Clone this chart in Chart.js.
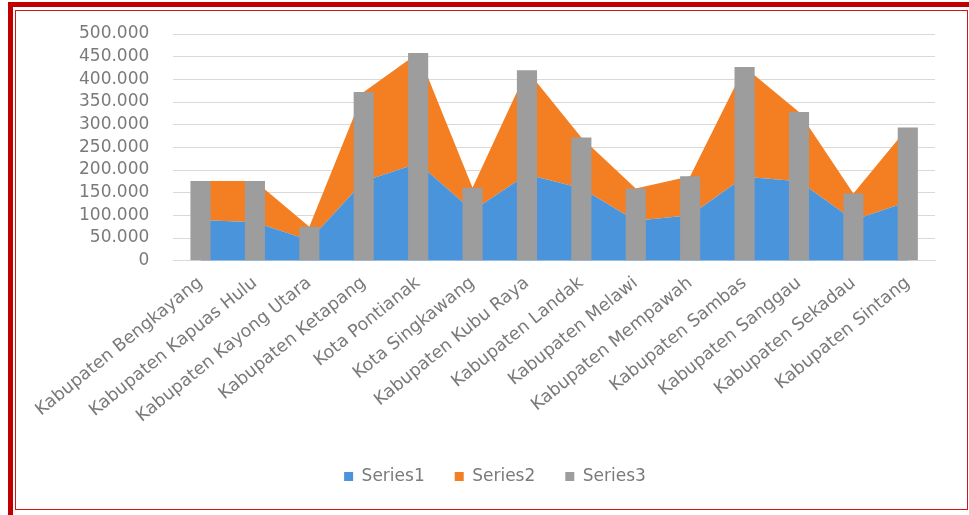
<!DOCTYPE html>
<html>
<head>
<meta charset="utf-8">
<script src="https://cdn.jsdelivr.net/npm/chart.js@4/dist/chart.umd.min.js"></script>
<style>
  html, body { margin: 0; padding: 0; background: #fff; }
  #wrap { position: relative; width: 969px; height: 515px; overflow: hidden; }
  #chart { position: absolute; left: 0; top: 0; }
  .frameOuter { position: absolute; left: 8px; top: 2px; width: 960px; height: 510px; border: 5px solid #c00000; }
  .frameInner { position: absolute; left: 15px; top: 10px; width: 951px; height: 498px; border: 1.5px solid #d01818; }
</style>
</head>
<body>
<div id="wrap">
  <canvas id="chart" width="969" height="515"></canvas>
  <div class="frameOuter"></div>
  <div class="frameInner"></div>
</div>
<script>
var kabupaten = ['Kabupaten Bengkayang', 'Kabupaten Kapuas Hulu', 'Kabupaten Kayong Utara', 'Kabupaten Ketapang',
    'Kota Pontianak', 'Kota Singkawang', 'Kabupaten Kubu Raya', 'Kabupaten Landak', 'Kabupaten Melawi',
    'Kabupaten Mempawah', 'Kabupaten Sambas', 'Kabupaten Sanggau', 'Kabupaten Sekadau', 'Kabupaten Sintang'];

var series1 = [90000, 85000, 45000, 175000, 215000, 110000, 190000, 160000, 88000, 100000, 185000, 175000, 90000, 130000];
var series2 = [86000, 91000, 30000, 197000, 243000, 51000, 230000, 112000, 71000, 86000, 242000, 153000, 58000, 164000];
var series3 = [176000, 176000, 75000, 372000, 458000, 161000, 420000, 272000, 159000, 186000, 427000, 328000, 148000, 294000];

var yMax = 500000;
var yStep = 50000;

function titik(v) {
    return String(v).replace(/\B(?=(\d{3})+(?!\d))/g, '.');
}

var teks = '#7a7a7a';
var huruf = "'DejaVu Sans', sans-serif";

var ctx = document.getElementById('chart').getContext('2d');

new Chart(ctx, {
    data: {
        labels: kabupaten,
        datasets: [{
            type: 'line',
            label: 'Series1',
            data: series1,
            stack: 'area',
            fill: 'origin',
            backgroundColor: '#4a94dc',
            borderColor: '#4a94dc',
            borderWidth: 0,
            pointRadius: 0,
            tension: 0,
            order: 2
        }, {
            type: 'line',
            label: 'Series2',
            data: series2,
            stack: 'area',
            fill: '-1',
            backgroundColor: '#f47e22',
            borderColor: '#f47e22',
            borderWidth: 0,
            pointRadius: 0,
            tension: 0,
            order: 2
        }, {
            type: 'bar',
            label: 'Series3',
            data: series3,
            stack: 'bar',
            backgroundColor: '#9d9d9d',
            barPercentage: 0.37,
            categoryPercentage: 1,
            order: 1
        }]
    },
    options: {
        responsive: false,
        animation: false,
        layout: {
            padding: { left: 55, right: 34, top: 34, bottom: 20 }
        },
        scales: {
            x: {
                offset: true,
                grid: { display: false },
                border: { color: '#d9d9d9' },
                ticks: {
                    color: teks,
                    font: { family: huruf, size: 17.5 },
                    minRotation: 39,
                    maxRotation: 39,
                    autoSkip: false,
                    padding: 4
                },
                afterFit: function (scale) {
                    // label pertama boleh keluar ke kiri, jangan geser area plot
                    scale.paddingLeft = 0;
                    scale.height += 7;
                }
            },
            y: {
                stacked: true,
                min: 0,
                max: yMax,
                grid: { color: '#d9d9d9', drawTicks: false },
                border: { display: false },
                ticks: {
                    stepSize: yStep,
                    autoSkip: false,
                    color: teks,
                    padding: 24,
                    font: { family: huruf, size: 17, lineHeight: 1 },
                    callback: function (v) { return titik(v); }
                }
            }
        },
        plugins: {
            legend: {
                position: 'bottom',
                labels: {
                    color: teks,
                    font: { family: huruf, size: 17 },
                    boxWidth: 9,
                    boxHeight: 9,
                    padding: 30,
                    sort: function (a, b) { return a.datasetIndex - b.datasetIndex; }
                }
            },
            tooltip: { enabled: false }
        }
    }
});
</script>
</body>
</html>
